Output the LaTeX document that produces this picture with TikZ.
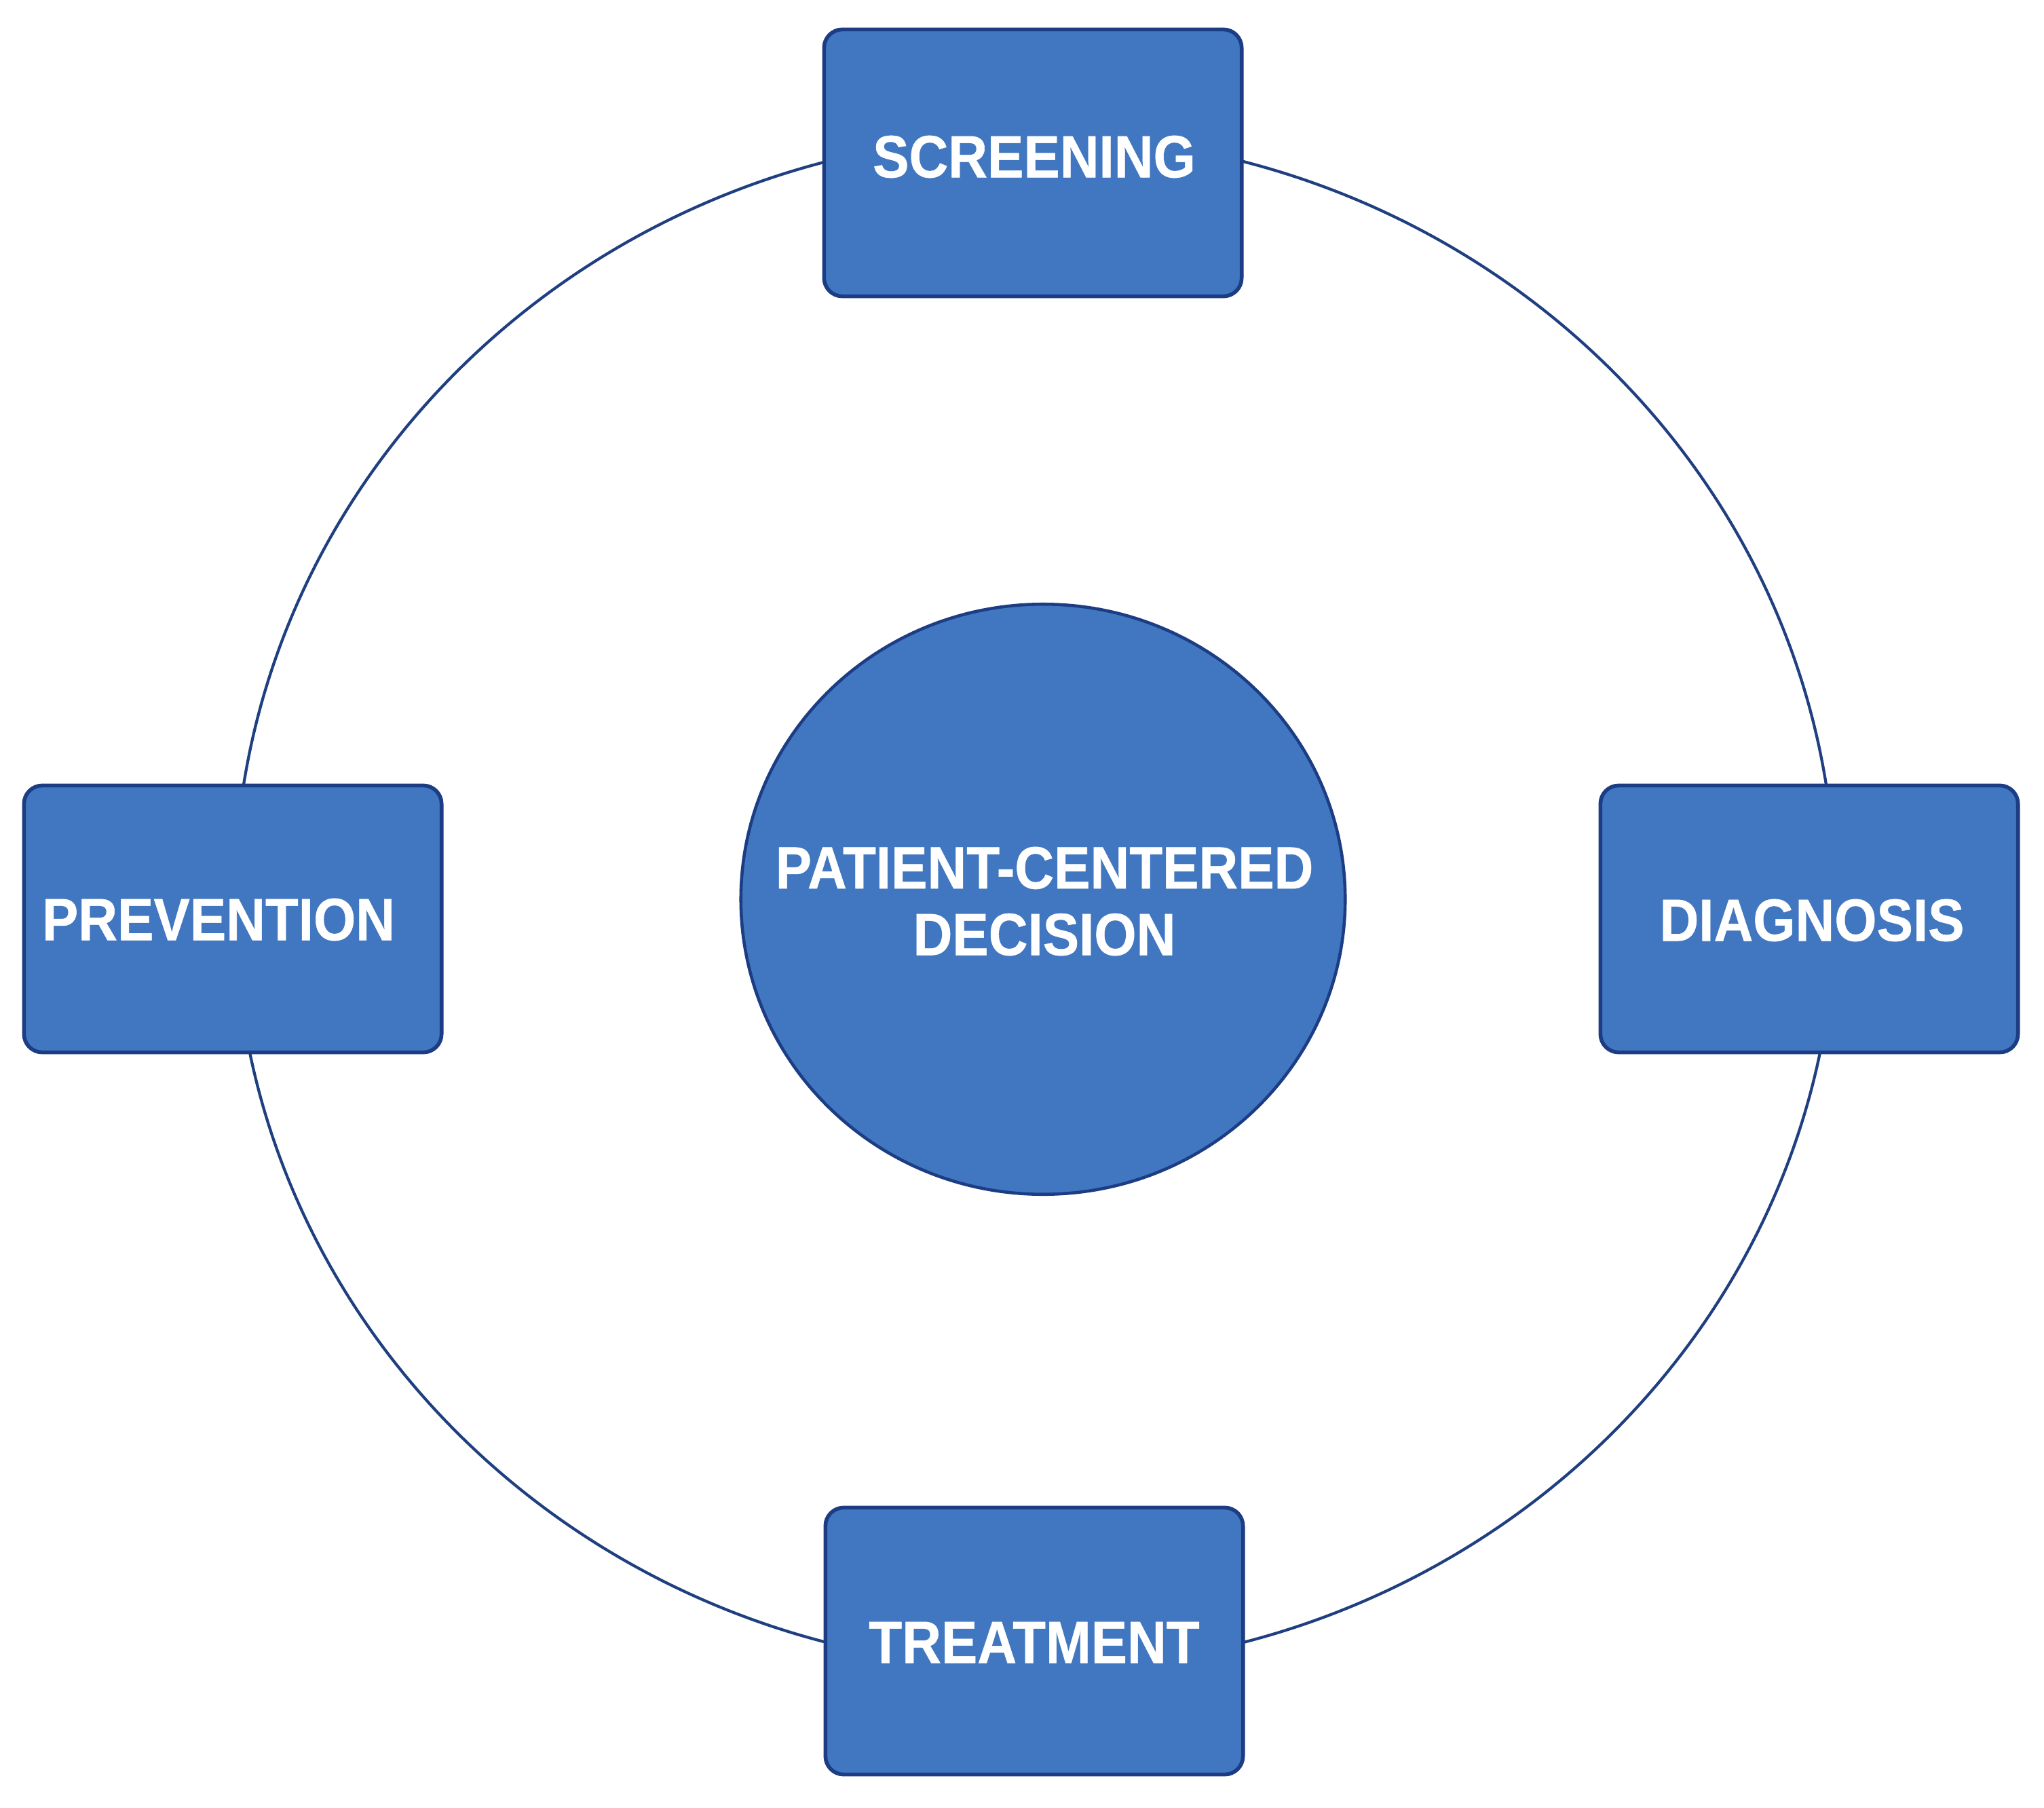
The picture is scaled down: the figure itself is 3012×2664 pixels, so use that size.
\documentclass[tikz,border=0pt]{standalone}
\usepackage{fontspec}
\newfontfamily\lblfont{Liberation Sans}[FakeStretch=0.91,FakeBold=0.6]
\usetikzlibrary{shapes.geometric}
\definecolor{boxfill}{HTML}{4177C0}
\definecolor{boxline}{HTML}{1C3D84}
\definecolor{ringline}{HTML}{1F3F80}
\begin{document}
\begin{tikzpicture}[x=0.01cm,y=-0.01cm,
  stagebox/.style={draw=boxline, fill=boxfill, line width=1.6pt,
    rounded corners=0.27cm, minimum width=6.15cm, minimum height=3.93cm,
    inner sep=0pt, outer sep=0pt},
  hub/.style={draw=boxline, fill=boxfill, line width=1.3pt, ellipse,
    minimum width=8.9cm, minimum height=8.69cm, inner sep=0pt},
  lbl/.style={text=white, inner sep=0pt,
    font=\lblfont\bfseries\fontsize{25pt}{27.9pt}\selectfont},
  ring/.style={draw=ringline, line width=1.2pt}
]
\useasboundingbox (0,0) rectangle (3012,2664);
\fill[white] (0,0) rectangle (3012,2664);

% outer ring
\coordinate (ringc) at (1525,1329);
\draw[ring] (ringc) ellipse [x radius=11.79cm, y radius=11.29cm];

% central decision
\node[hub] (hub) at (1537,1325) {};
\node[lbl, align=center] (hubtext) at (1539,1328) {PATIENT-CENTERED\\DECISION};

% stage boxes
\node[stagebox] (scr) at (1522,240) {};
\node[stagebox] (prev) at (343,1354) {};
\node[stagebox] (diag) at (2666,1354) {};
\node[stagebox] (treat) at (1524,2418) {};

\node[lbl] (scrtext) at (1524,231) {SCREENING};
\node[lbl] (prevtext) at (322,1355) {PREVENTION};
\node[lbl] (diagtext) at (2670,1356) {DIAGNOSIS};
\node[lbl] (treattext) at (1524,2420) {TREATMENT};
\end{tikzpicture}
\end{document}
